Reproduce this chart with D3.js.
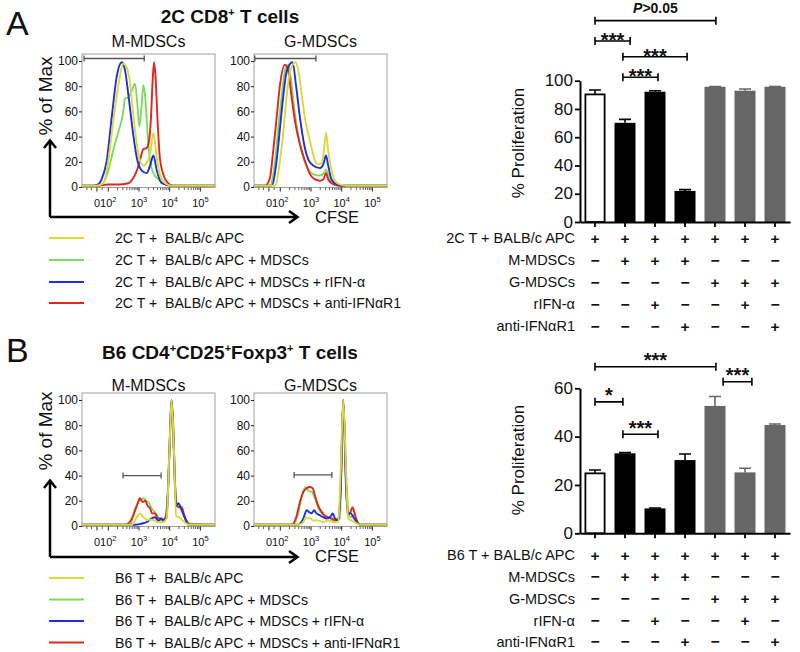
<!DOCTYPE html>
<html><head><meta charset="utf-8">
<script src="https://cdn.jsdelivr.net/npm/d3@7"></script>
<style>
body{margin:0;background:#fff;}
svg text{font-family:"Liberation Sans",Arial,Helvetica,sans-serif;fill:#111;}
</style></head><body>
<svg id="chart" width="800" height="652" xmlns="http://www.w3.org/2000/svg"></svg>
<script>
// ---------------- DATA ----------------
// histogram x values are log10(CFSE) (biexponential display), y = % of Max
const histXTicks = [1.63, 2, 3, 4, 5];
const histXTickLabels = [["0",""],["10","2"],["10","3"],["10","4"],["10","5"]];
const histYTicks = [0, 20, 40, 60, 80, 100];

const aM_yellow = [[1.14,1],[1.6,1],[1.84,3],[2.0,21],[2.16,52],[2.33,81],[2.49,98],[2.54,97],[2.60,95],[2.71,82],[2.81,58],[2.93,34],[3.03,21],[3.14,17],[3.25,19],[3.36,26],[3.47,43],[3.58,23],[3.68,10],[3.85,3],[4.07,1],[5.48,1]];
const aM_green  = [[1.14,1],[1.73,1],[2.0,13],[2.16,29],[2.33,44],[2.49,60],[2.54,70],[2.65,71],[2.76,76],[2.87,82],[2.96,62],[3.01,48],[3.09,66],[3.14,81],[3.20,72],[3.28,42],[3.36,21],[3.47,11],[3.63,6],[3.85,2],[4.07,1],[5.48,1]];
const aM_blue   = [[1.14,1],[1.5,1],[1.67,2],[1.78,6],[1.95,21],[2.11,55],[2.27,87],[2.44,99],[2.55,92],[2.65,74],[2.81,42],[2.93,23],[3.09,13],[3.25,11],[3.36,17],[3.47,25],[3.58,13],[3.74,3],[4.07,1],[5.48,1]];
const aM_red    = [[1.14,1],[1.6,1],[2.0,2],[2.33,2],[2.65,3],[2.81,7],[2.93,13],[3.03,21],[3.14,30],[3.25,31],[3.33,37],[3.39,55],[3.45,87],[3.49,99],[3.54,87],[3.60,55],[3.68,23],[3.79,10],[3.95,3],[4.12,1],[5.48,1]];

const aG_yellow = [[1.14,1],[1.83,1],[1.99,21],[2.10,44],[2.21,73],[2.32,92],[2.50,99],[2.59,92],[2.70,73],[2.80,55],[2.91,42],[3.02,31],[3.13,21],[3.24,18],[3.35,19],[3.42,29],[3.49,43],[3.56,29],[3.67,13],[3.78,5],[3.94,2],[4.16,1],[5.48,1]];
const aG_green  = [[1.14,1],[1.66,1],[1.83,21],[1.93,47],[2.05,73],[2.15,92],[2.26,97],[2.34,87],[2.45,63],[2.59,40],[2.75,23],[2.91,14],[3.07,10],[3.29,9],[3.42,11],[3.49,14],[3.60,6],[3.78,2],[4.0,1],[5.48,1]];
const aG_blue   = [[1.14,1],[1.72,1],[1.88,21],[1.99,47],[2.10,73],[2.21,92],[2.40,99],[2.51,81],[2.64,55],[2.80,31],[2.91,22],[3.07,17],[3.29,15],[3.40,18],[3.49,25],[3.56,17],[3.67,6],[3.84,2],[4.05,1],[5.48,1]];
const aG_red    = [[1.14,1],[1.5,1],[1.66,7],[1.77,29],[1.88,55],[1.99,81],[2.15,97],[2.26,92],[2.37,71],[2.48,52],[2.64,34],[2.80,21],[2.97,10],[3.13,6],[3.29,5],[3.40,6],[3.49,11],[3.56,6],[3.73,2],[3.94,1],[5.48,1]];

const bM_yellow = [[1.14,1],[2.76,1],[2.93,7],[3.03,10],[3.14,7],[3.25,5],[3.41,5],[3.63,3],[3.79,3],[3.90,6],[3.99,59],[4.06,100],[4.14,59],[4.21,8],[4.30,7],[4.44,4],[4.61,1],[5.48,1]];
const bM_green  = [[1.14,1],[2.71,1],[2.87,14],[3.03,20],[3.14,22],[3.25,20],[3.33,18],[3.41,14],[3.52,11],[3.63,7],[3.74,4],[3.85,6],[3.95,30],[4.06,100],[4.17,35],[4.23,18],[4.30,16],[4.39,12],[4.50,7],[4.61,2],[5.48,1]];
const bM_blue   = [[1.14,1],[2.87,1],[3.09,2],[3.25,3],[3.41,6],[3.52,7],[3.63,4],[3.72,6],[3.79,5],[3.90,7],[3.99,59],[4.06,100],[4.14,59],[4.21,16],[4.28,18],[4.37,14],[4.48,7],[4.61,1],[5.48,1]];
const bM_red    = [[1.14,1],[2.54,1],[2.65,2],[2.81,8],[2.93,16],[3.03,22],[3.12,19],[3.20,20],[3.28,16],[3.36,14],[3.43,10],[3.52,10],[3.61,6],[3.72,6],[3.79,4],[3.87,7],[3.95,32],[4.01,72],[4.06,100],[4.12,77],[4.17,32],[4.23,16],[4.30,15],[4.39,15],[4.48,8],[4.55,4],[4.66,1],[5.48,1]];

const bG_yellow = [[1.14,1],[2.59,1],[2.75,3],[2.86,7],[2.97,6],[3.08,4.5],[3.24,4.5],[3.40,3],[3.56,4.5],[3.73,3],[3.89,3.5],[3.97,45],[4.05,100],[4.14,45],[4.21,6],[4.38,3.5],[4.60,1],[5.48,1]];
const bG_green  = [[1.14,1],[2.42,1],[2.59,11],[2.70,24],[2.84,31],[2.91,28],[3.02,27],[3.13,22],[3.24,14],[3.35,10],[3.46,8.5],[3.62,6],[3.78,3],[3.94,6],[4.05,100],[4.16,32],[4.27,7],[4.38,8.5],[4.49,4.5],[4.60,1],[5.48,1]];
const bG_blue   = [[1.14,1],[2.59,1],[2.75,6],[2.86,12.5],[2.94,11],[3.02,10],[3.10,12.5],[3.18,10],[3.29,8.5],[3.40,7],[3.51,6],[3.62,7],[3.71,10],[3.78,6],[3.89,4.5],[3.97,32],[4.05,100],[4.14,32],[4.21,10],[4.30,10],[4.38,7],[4.49,3],[4.60,1],[5.48,1]];
const bG_red    = [[1.14,1],[2.37,1],[2.53,8],[2.64,19],[2.75,27],[2.86,30],[2.97,31],[3.05,30],[3.13,24],[3.24,16],[3.35,11],[3.46,8],[3.56,7],[3.67,6],[3.78,4.5],[3.89,6],[3.97,32],[4.05,100],[4.13,45],[4.19,9],[4.27,10],[4.35,15],[4.41,11],[4.49,4.5],[4.60,1],[5.48,1]];

// gates: [from, to, level]
const gateA_M = [1.21, 3.17, 102];
const gateA_G = [1.17, 3.16, 102];
const gateB_M = [2.48, 3.72, 40];
const gateB_G = [2.45, 3.68, 40.5];

const legendA = ["2C T +  BALB/c APC","2C T +  BALB/c APC + MDSCs","2C T +  BALB/c APC + MDSCs + rIFN-\u03b1","2C T +  BALB/c APC + MDSCs + anti-IFN\u03b1R1"];
const legendB = ["B6 T +  BALB/c APC","B6 T +  BALB/c APC + MDSCs","B6 T +  BALB/c APC + MDSCs + rIFN-\u03b1","B6 T +  BALB/c APC + MDSCs + anti-IFN\u03b1R1"];

// bar charts
const conditions = ["c1","c2","c3","c4","c5","c6","c7"];
const barsA = [90.3, 70.2, 92.2, 22.0, 95.7, 92.9, 95.7];
const errA  = [93.4, 72.6, 92.9, 22.9, 95.9, 94.1, 95.9];
const barsB = [24.8, 33.1, 10.3, 30.3, 52.7, 25.2, 44.8];
const errB  = [26.2, 33.4, 10.5, 32.8, 56.6, 26.9, 45.2];
const yTicksA = [0, 20, 40, 60, 80, 100];
const yTicksB = [0, 20, 40, 60];

const rowLabelsA = ["2C T + BALB/c APC","M-MDSCs","G-MDSCs","rIFN-\u03b1","anti-IFN\u03b1R1"];
const rowLabelsB = ["B6 T + BALB/c APC","M-MDSCs","G-MDSCs","rIFN-\u03b1","anti-IFN\u03b1R1"];
const tableSigns = ["+++++++","-+++---","----+++","--+--+-","---+--+"];

// significance brackets: [from bar, to bar, level (y units), label]
const sigA = [[0,4.03,142.5,"P>0.05"],[0,1.17,128.1,"***"],[0.93,3.07,117,"***"],[0.93,2.1,102.4,"***"]];
const sigB = [[0,4.03,68.9,"***"],[4.27,5.23,62.7,"***"],[0,0.93,54.4,"*"],[0.93,2.1,41,"***"]];

// ---------------- DRAW ----------------
const svg = d3.select("#chart");
const COLORS = ["#d9d93a","#7ddc5c","#1f2fdc","#e2261c"]; // yellow, green, blue, red
const DRAW_ORDER = [1,3,2,0];

const HW = 133;
const xH = d3.scaleLinear().domain([1.143, 5.476]).range([0, HW]);
const yH = d3.scaleLinear().domain([0, 100]).range([133, 7]);

function drawHist(left, top, curves, gate, labelBaseline, name) {
  const g = svg.append("g").attr("transform", `translate(${left},${top})`);
  g.append("rect").attr("x",0).attr("y",0).attr("width",HW).attr("height",133.5)
    .attr("fill","none").attr("stroke","#a0a0a0").attr("stroke-width",1);
  const line = d3.line().x(d=>xH(d[0])).y(d=>yH(d[1])).curve(d3.curveMonotoneX);
  DRAW_ORDER.forEach(i => {
    g.append("path").attr("d", line(curves[i])).attr("fill","none")
      .attr("stroke", COLORS[i]).attr("stroke-width",1.9).attr("stroke-linejoin","round");
  });
  const gy = yH(gate[2]), gx0 = xH(gate[0]), gx1 = xH(gate[1]);
  g.append("path").attr("d",`M${gx0},${gy}H${gx1}M${gx0},${gy-3}V${gy+3}M${gx1},${gy-3}V${gy+3}`)
    .attr("stroke","#555").attr("stroke-width",1.3).attr("fill","none");
  const ya = g.append("g").call(d3.axisLeft(yH).tickValues(histYTicks).tickSize(3).tickPadding(1).tickSizeOuter(0));
  ya.select(".domain").remove();
  ya.selectAll("line").attr("stroke","#222");
  ya.selectAll("text").attr("font-size",12).attr("fill","#111").attr("font-family",null);
  const minor = [1.3,1.45,1.8];
  for (let n=2;n<=4;n++) for (let k=2;k<=9;k++) minor.push(n+Math.log10(k));
  const xa = g.append("g").attr("transform","translate(0,133.5)");
  xa.selectAll("line.minor").data(minor).join("line").attr("class","minor")
    .attr("x1",d=>xH(d)).attr("x2",d=>xH(d)).attr("y1",0).attr("y2",2.5).attr("stroke","#333").attr("stroke-width",0.8);
  xa.selectAll("line.major").data(histXTicks).join("line").attr("class","major")
    .attr("x1",d=>xH(d)).attr("x2",d=>xH(d)).attr("y1",0).attr("y2",4).attr("stroke","#222").attr("stroke-width",1);
  histXTicks.forEach((v,i) => {
    const t = xa.append("text").attr("x", xH(v)).attr("y", labelBaseline).attr("text-anchor","middle").attr("font-size",11);
    t.append("tspan").text(histXTickLabels[i][0]);
    if (histXTickLabels[i][1]) t.append("tspan").attr("font-size",7.5).attr("dy",-5).text(histXTickLabels[i][1]);
  });
  svg.append("text").attr("x", left + HW/2).attr("y", name[1]).attr("text-anchor","middle")
    .attr("font-size",16).text(name[0]);
}

function drawArrows(dy, cfseY, pctY) {
  const g = svg.append("g");
  g.append("path").attr("d",`M50,${217+dy}V${141+dy}M44,${148+dy}L50,${140.5+dy}L56,${148+dy}`)
    .attr("stroke","#000").attr("stroke-width",2.5).attr("fill","none");
  g.append("path").attr("d",`M50,${217+dy}H297M289,${211+dy}L297.5,${217+dy}L289,${223+dy}`)
    .attr("stroke","#000").attr("stroke-width",2.5).attr("fill","none");
  svg.append("text").attr("x",315).attr("y",cfseY).attr("font-size",16.5).text("CFSE");
  svg.append("text").attr("transform",`translate(52,${pctY}) rotate(-90)`).attr("text-anchor","middle")
    .attr("font-size",19).text("% of Max");
}

function drawLegend(items, ys) {
  items.forEach((txt,i) => {
    svg.append("line").attr("x1",49).attr("x2",84).attr("y1",ys[i]).attr("y2",ys[i])
      .attr("stroke",COLORS[i]).attr("stroke-width",2.2);
    svg.append("text").attr("x",115).attr("y",ys[i]+5).attr("font-size",14.1)
      .style("white-space","pre").text(txt);
  });
}

function drawTitle(letter, letterY, parts, titleY) {
  svg.append("text").attr("x",6).attr("y",letterY).attr("font-size",34).text(letter);
  const t = svg.append("text").attr("x",230).attr("y",titleY).attr("text-anchor","middle")
    .attr("font-size",19).attr("font-weight","bold");
  parts.forEach(p => {
    if (p.sup) t.append("tspan").attr("font-size",11).attr("dy",-7).text(p.t);
    else t.append("tspan").attr("dy", p.after ? 7 : 0).text(p.t);
  });
}

const xB = d3.scaleBand().domain(conditions).range([580,790]).paddingInner(0.3).paddingOuter(0.15);
const barFill = ["#fff","#000","#000","#000","#666","#666","#666"];
function posAt(f) { return xB(conditions[0]) + xB.bandwidth()/2 + f*xB.step(); }

function drawBars(vals, errs, yDomainMax, yRange, yTicks, ylabelY, sig, starGap, rowLabels, rowY0, rowStep) {
  const y = d3.scaleLinear().domain([0,yDomainMax]).range(yRange);
  const g = svg.append("g");
  conditions.forEach((c,i) => {
    const x0 = xB(c), bw = xB.bandwidth();
    const cx = x0 + bw/2;
    g.append("path").attr("d",`M${cx},${y(vals[i])}V${y(errs[i])}M${cx-6},${y(errs[i])}H${cx+6}`)
      .attr("stroke", i===0 ? "#000" : barFill[i]).attr("stroke-width",1.6).attr("fill","none");
    g.append("rect").attr("x",x0 + (i===0?0.9:0)).attr("y",y(vals[i]))
      .attr("width",bw - (i===0?1.8:0)).attr("height",y(0)-y(vals[i]))
      .attr("fill",barFill[i]).attr("stroke", i===0 ? "#000" : "none").attr("stroke-width",1.8);
  });
  const ya = g.append("g").attr("transform","translate(580,0)")
    .call(d3.axisLeft(y).tickValues(yTicks).tickSize(5).tickPadding(2).tickSizeOuter(0));
  ya.select(".domain").attr("stroke-width",2);
  ya.selectAll("line").attr("stroke-width",1.8);
  ya.selectAll("text").attr("font-size",17).attr("fill","#111").attr("font-family",null).attr("dy","0.3em");
  const xa = g.append("g").attr("transform",`translate(0,${y(0)})`)
    .call(d3.axisBottom(xB).tickSize(5).tickSizeOuter(0).tickFormat(""));
  xa.select(".domain").attr("stroke-width",2);
  xa.selectAll("line").attr("stroke-width",1.8);
  svg.append("text").attr("transform",`translate(524,${ylabelY}) rotate(-90)`).attr("text-anchor","middle")
    .attr("font-size",17).text("% Proliferation");
  sig.forEach(s => {
    const a = posAt(s[0]), b = posAt(s[1]), ly = y(s[2]);
    g.append("path").attr("d",`M${a},${ly}H${b}M${a},${ly-4}V${ly+4}M${b},${ly-4}V${ly+4}`)
      .attr("stroke","#000").attr("stroke-width",1.6).attr("fill","none");
    if (s[3].startsWith("P")) {
      const t = g.append("text").attr("x",(a+b)/2).attr("y",ly-8).attr("text-anchor","middle")
        .attr("font-size",14).attr("font-weight","bold");
      t.append("tspan").attr("font-style","italic").text("P");
      t.append("tspan").text(s[3].slice(1));
    } else {
      g.append("text").attr("x",(a+b)/2).attr("y",ly - starGap + 8.6).attr("text-anchor","middle")
        .attr("font-size",20).attr("font-weight","bold").text(s[3]);
    }
  });
  rowLabels.forEach((lab,r) => {
    const ry = rowY0 + r*rowStep;
    svg.append("text").attr("x",575).attr("y",ry).attr("dy","0.34em").attr("text-anchor","end")
      .attr("font-size",14.5).text(lab);
    conditions.forEach((c,i) => {
      const ch = tableSigns[r][i] === "+" ? "+" : "\u2212";
      svg.append("text").attr("x", xB(c)+xB.bandwidth()/2).attr("y",ry).attr("dy","0.33em")
        .attr("text-anchor","middle").attr("font-size",15.5).attr("font-weight","bold").text(ch);
    });
  });
}

// ---- Panel A ----
drawTitle("A", 35, [{t:"2C CD8"},{t:"+",sup:true},{t:" T cells",after:true}], 23);
drawHist(82, 54, [aM_yellow,aM_green,aM_blue,aM_red], gateA_M, 19, ["M-MDSCs",47]);
drawHist(254, 54, [aG_yellow,aG_green,aG_blue,aG_red], gateA_G, 19, ["G-MDSCs",47]);
drawArrows(0, 223, 96);
drawLegend(legendA, [238, 260, 282, 303]);
drawBars(barsA, errA, 100, [222, 80.7], yTicksA, 143, sigA, 2.5, rowLabelsA, 238.5, 22);

// ---- Panel B ----
drawTitle("B", 361.5, [{t:"B6 CD4"},{t:"+",sup:true},{t:"CD25",after:true},{t:"+",sup:true},{t:"Foxp3",after:true},{t:"+",sup:true},{t:" T cells",after:true}], 359);
drawHist(82, 393, [bM_yellow,bM_green,bM_blue,bM_red], gateB_M, 19.5, ["M-MDSCs",391]);
drawHist(254, 393, [bG_yellow,bG_green,bG_blue,bG_red], gateB_G, 19.5, ["G-MDSCs",391]);
drawArrows(340, 562, 431);
drawLegend(legendB, [578, 599.5, 621, 642.5]);
drawBars(barsB, errB, 60, [533.3, 388.3], yTicksB, 460, sigB, 8, rowLabelsB, 555.5, 21.7);
</script>
</body></html>
